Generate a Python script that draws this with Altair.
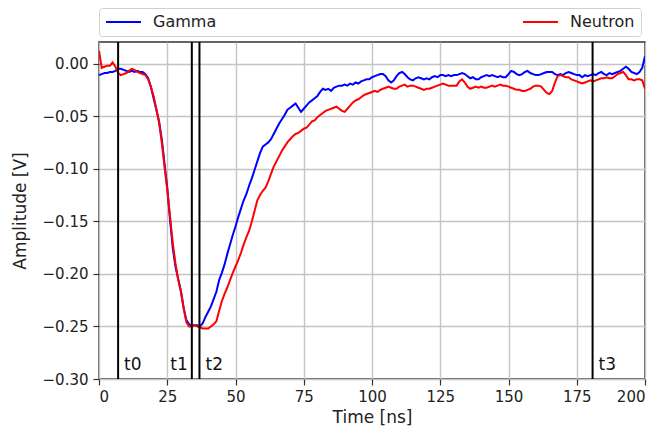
import altair as alt
import pandas as pd

time_ns = list(range(201))

gamma = [
    -0.011, -0.010, -0.009, -0.009, -0.008, -0.008, -0.007, -0.005, -0.005, -0.006,
    -0.007, -0.008, -0.007, -0.008, -0.007, -0.008, -0.008, -0.010, -0.014, -0.022,
    -0.033, -0.044, -0.055, -0.072, -0.095, -0.118, -0.148, -0.175, -0.193, -0.205,
    -0.216, -0.232, -0.244, -0.248, -0.249, -0.249, -0.249, -0.250, -0.247, -0.241,
    -0.236, -0.231, -0.224, -0.217, -0.206, -0.199, -0.191, -0.181, -0.172, -0.163,
    -0.155, -0.146, -0.138, -0.130, -0.124, -0.116, -0.109, -0.101, -0.093, -0.085,
    -0.079, -0.077, -0.075, -0.072, -0.067, -0.062, -0.057, -0.053, -0.049, -0.044,
    -0.042, -0.040, -0.038, -0.042, -0.046, -0.043, -0.040, -0.037, -0.035, -0.033,
    -0.031, -0.027, -0.024, -0.025, -0.024, -0.026, -0.023, -0.022, -0.021, -0.021,
    -0.020, -0.021, -0.019, -0.020, -0.018, -0.019, -0.017, -0.016, -0.015, -0.015,
    -0.013, -0.012, -0.011, -0.010, -0.010, -0.012, -0.016, -0.018, -0.016, -0.012,
    -0.009, -0.008, -0.010, -0.013, -0.015, -0.016, -0.014, -0.013, -0.014, -0.015,
    -0.014, -0.015, -0.013, -0.012, -0.013, -0.011, -0.011, -0.012, -0.011, -0.012,
    -0.011, -0.011, -0.010, -0.009, -0.010, -0.012, -0.014, -0.013, -0.015, -0.015,
    -0.013, -0.012, -0.011, -0.012, -0.011, -0.012, -0.013, -0.012, -0.013, -0.013,
    -0.010, -0.007, -0.008, -0.010, -0.011, -0.010, -0.008, -0.007, -0.009, -0.010,
    -0.011, -0.011, -0.010, -0.009, -0.008, -0.008, -0.008, -0.010, -0.011, -0.010,
    -0.011, -0.009, -0.008, -0.009, -0.010, -0.011, -0.011, -0.013, -0.011, -0.012,
    -0.011, -0.010, -0.011, -0.009, -0.008, -0.010, -0.011, -0.009, -0.010, -0.009,
    -0.008, -0.007, -0.005, -0.003, -0.005, -0.008, -0.009, -0.010, -0.008, -0.004,
    0.007,
]

neutron = [
    0.012, -0.004, -0.003, -0.002, -0.002, 0.001, -0.003, -0.009, -0.011, -0.010,
    -0.009, -0.007, -0.005, -0.006, -0.008, -0.009, -0.010, -0.011, -0.015, -0.022,
    -0.031, -0.043, -0.056, -0.075, -0.098, -0.120, -0.145, -0.170, -0.190, -0.205,
    -0.217, -0.233, -0.246, -0.250, -0.250, -0.249, -0.250, -0.251, -0.252, -0.252,
    -0.252, -0.250, -0.248, -0.245, -0.235, -0.226, -0.219, -0.213, -0.206, -0.199,
    -0.193, -0.187, -0.180, -0.172, -0.165, -0.159, -0.150, -0.140, -0.130, -0.125,
    -0.121, -0.118, -0.112, -0.105, -0.098, -0.093, -0.088, -0.083, -0.079, -0.075,
    -0.072, -0.069, -0.067, -0.066, -0.064, -0.062, -0.061, -0.058, -0.055, -0.054,
    -0.051, -0.049, -0.047, -0.045, -0.044, -0.043, -0.042, -0.041, -0.043, -0.045,
    -0.046, -0.043, -0.040, -0.037, -0.035, -0.034, -0.032, -0.030, -0.029, -0.028,
    -0.027, -0.026, -0.027, -0.025, -0.024, -0.023, -0.022, -0.023, -0.024, -0.024,
    -0.022, -0.021, -0.020, -0.022, -0.021, -0.021, -0.022, -0.023, -0.024, -0.025,
    -0.024, -0.024, -0.023, -0.022, -0.021, -0.020, -0.019, -0.020, -0.021, -0.021,
    -0.021, -0.021, -0.017, -0.015, -0.018, -0.022, -0.024, -0.023, -0.022, -0.023,
    -0.022, -0.023, -0.023, -0.022, -0.021, -0.022, -0.021, -0.020, -0.021, -0.021,
    -0.022, -0.023, -0.024, -0.025, -0.025, -0.026, -0.026, -0.025, -0.024, -0.022,
    -0.021, -0.021, -0.022, -0.025, -0.028, -0.029, -0.026, -0.018, -0.012, -0.011,
    -0.012, -0.013, -0.013, -0.015, -0.016, -0.017, -0.018, -0.019, -0.018, -0.017,
    -0.016, -0.017, -0.016, -0.015, -0.014, -0.014, -0.013, -0.014, -0.014, -0.012,
    -0.010, -0.009, -0.008, -0.011, -0.015, -0.015, -0.016, -0.015, -0.015, -0.016,
    -0.024,
]

series_names = ["Gamma", "Neutron"]
series_colors = ["#0000ff", "#ff0000"]

marker_names = ["t0", "t1", "t2", "t3"]
marker_times = [7.0, 34.0, 36.8, 180.8]
LABEL_LEVEL = -0.291

x_ticks = [0, 25, 50, 75, 100, 125, 150, 175, 200]
y_ticks = [-0.30, -0.25, -0.20, -0.15, -0.10, -0.05, 0.00]

df = pd.concat([
    pd.DataFrame({"time": time_ns, "amp": gamma, "series": series_names[0]}),
    pd.DataFrame({"time": time_ns, "amp": neutron, "series": series_names[1]}),
])
markers = pd.DataFrame({"name": marker_names, "t": marker_times, "level": LABEL_LEVEL})

FONT = "DejaVu Sans"

x_enc = alt.X("time:Q", scale=alt.Scale(domain=[0, 200], nice=False, zero=False),
              axis=alt.Axis(values=x_ticks, format="d", title="Time [ns]"))
y_enc = alt.Y("amp:Q", scale=alt.Scale(domain=[-0.30, 0.0205], nice=False, zero=False),
              axis=alt.Axis(values=y_ticks, format=".2f", title="Amplitude [V]"))

lines = alt.Chart(df).mark_line(strokeWidth=2, clip=True).encode(
    x=x_enc,
    y=y_enc,
    color=alt.Color(
        "series:N",
        scale=alt.Scale(domain=series_names, range=series_colors),
        legend=alt.Legend(
            title=None, orient="none", legendX=0, legendY=-34,
            direction="horizontal", columns=2, columnPadding=305,
            symbolType="stroke", symbolSize=1225, symbolStrokeWidth=2,
            clipHeight=16,
            labelFont=FONT, labelFontSize=16, labelColor="#222", labelOffset=11,
            padding=6, strokeColor="#d0d0d0", fillColor="white", cornerRadius=3,
        ),
    ),
)

rules = alt.Chart(markers).mark_rule(color="black", strokeWidth=2).encode(
    x=alt.X("t:Q")
)

text_right = alt.Chart(markers).transform_filter(alt.datum.name != "t1").mark_text(
    align="left", baseline="alphabetic", dx=6, font=FONT, fontSize=17, color="#111"
).encode(x="t:Q", y="level:Q", text="name:N")

text_left = alt.Chart(markers).transform_filter(alt.datum.name == "t1").mark_text(
    align="right", baseline="alphabetic", dx=-4, font=FONT, fontSize=17, color="#111"
).encode(x="t:Q", y="level:Q", text="name:N")

chart = alt.layer(lines, rules, text_right, text_left).properties(
    width=546, height=337,
    padding={"left": 99, "top": 42, "right": 15, "bottom": 53},
    autosize=alt.AutoSizeParams(type="none"),
).configure_view(
    stroke="#333", strokeWidth=1.5
).configure_axis(
    labelFont=FONT, titleFont=FONT, labelFontSize=15, titleFontSize=17,
    titleFontWeight="normal", labelColor="#222", titleColor="#222",
    grid=True, gridColor="#c4c4c4", gridWidth=1.4,
    tickColor="#333", tickSize=6, tickWidth=1.2, domain=False,
).configure_axisY(
    labelPadding=5, titlePadding=13
).configure_axisX(
    labelPadding=4, titlePadding=5
)

chart.save("out.html", embed_options={"renderer": "svg", "actions": False})
